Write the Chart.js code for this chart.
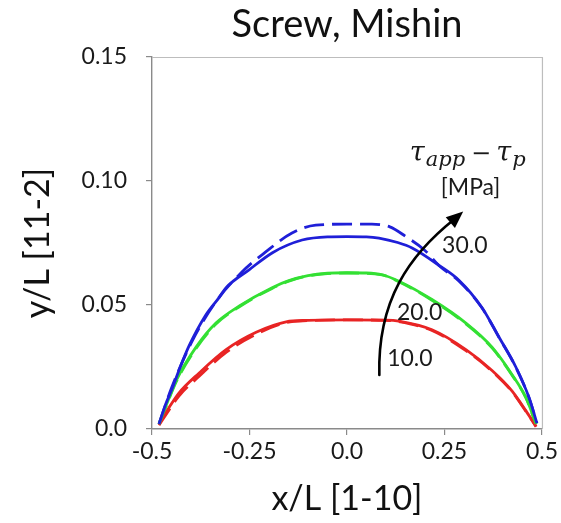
<!DOCTYPE html>
<html>
<head>
<meta charset="utf-8">
<script src="https://cdn.jsdelivr.net/npm/chart.js@4/dist/chart.umd.min.js"></script>
<style>
  html, body { margin: 0; padding: 0; background: #ffffff; }
  #wrap { width: 561px; height: 523px; }
</style>
</head>
<body>
<div id="wrap"><canvas id="c" width="561" height="523"></canvas></div>
<script>
// Chart heading
const chartTitle = 'Screw, Mishin';

// Axis ticks
const xTickValues = [-0.5, -0.25, 0, 0.25, 0.5];
const xTickLabels = ['-0.5', '-0.25', '0.0', '0.25', '0.5'];
const yTickValues = [0, 0.05, 0.10, 0.15];
const yTickLabels = ['0.0', '0.05', '0.10', '0.15'];

// Dislocation line profiles: solid = simulation, dashed = model
const blueSolidX = [-0.482, -0.465, -0.449, -0.43, -0.405, -0.362, -0.328, -0.31, -0.251, -0.19, -0.115, -0.05, 0.0, 0.05, 0.082, 0.13, 0.167, 0.236, 0.287, 0.346, 0.39, 0.433, 0.467, 0.487];
const blueSolidY = [0.002, 0.010, 0.0160, 0.0240, 0.0335, 0.0460, 0.0530, 0.0570, 0.0642, 0.0712, 0.0762, 0.0775, 0.0776, 0.0775, 0.0770, 0.0752, 0.0730, 0.0660, 0.0600, 0.0490, 0.0370, 0.0250, 0.0126, 0.0024];

const blueDashX = [-0.482, -0.45, -0.40, -0.34, -0.27, -0.21, -0.141, -0.08, 0.0, 0.064, 0.11, 0.151, 0.20, 0.235, 0.287, 0.346, 0.39, 0.433, 0.467, 0.487];
const blueDashY = [0.002, 0.0165, 0.0345, 0.0505, 0.0632, 0.0712, 0.0790, 0.0822, 0.0826, 0.0826, 0.0815, 0.0776, 0.0720, 0.0660, 0.0597, 0.0489, 0.0369, 0.0249, 0.0125, 0.0023];

const greenSolidX = [-0.482, -0.46, -0.438, -0.387, -0.336, -0.277, -0.192, -0.149, -0.10, -0.05, 0.0, 0.05, 0.09, 0.133, 0.218, 0.305, 0.372, 0.423, 0.459, 0.485];
const greenSolidY = [0.002, 0.011, 0.0195, 0.0330, 0.0427, 0.0495, 0.0570, 0.0598, 0.0618, 0.0628, 0.0630, 0.0629, 0.0622, 0.0596, 0.0522, 0.0427, 0.0330, 0.0220, 0.0126, 0.0020];

const greenDashX = [-0.482, -0.46, -0.438, -0.387, -0.336, -0.277, -0.192, -0.149, -0.10, 0.0, 0.09, 0.133, 0.218, 0.305, 0.372, 0.423, 0.459, 0.485];
const greenDashY = [0.002, 0.0107, 0.0190, 0.0325, 0.0423, 0.0492, 0.0567, 0.0596, 0.0617, 0.0629, 0.0621, 0.0594, 0.0519, 0.0424, 0.0327, 0.0218, 0.0125, 0.0019];

const redSolidX = [-0.482, -0.455, -0.431, -0.379, -0.31, -0.233, -0.156, -0.10, 0.0, 0.10, 0.133, 0.218, 0.305, 0.372, 0.423, 0.459, 0.485];
const redSolidY = [0.002, 0.009, 0.0145, 0.0226, 0.0320, 0.0390, 0.0432, 0.0438, 0.0440, 0.0439, 0.0435, 0.0400, 0.0320, 0.0236, 0.0154, 0.0073, 0.0010];

const redDashX = [-0.482, -0.455, -0.431, -0.379, -0.31, -0.233, -0.156, -0.10, 0.0, 0.10, 0.133, 0.218, 0.305, 0.372, 0.423, 0.459, 0.485];
const redDashY = [0.0015, 0.0080, 0.0133, 0.0213, 0.0309, 0.0382, 0.0429, 0.0437, 0.0440, 0.0438, 0.0433, 0.0397, 0.0316, 0.0233, 0.0151, 0.0071, 0.0009];

// Stress levels (MPa) written next to the curves
const stressLabels = ['10.0', '20.0', '30.0'];

function pts(xs, ys) { return xs.map((x, i) => ({ x: x, y: ys[i] })); }

const BLUE = '#1f1fd8';
const GREEN = '#33e033';
const RED = '#e82424';

function line(data, color, dashed) {
  return {
    data: data,
    borderColor: color,
    backgroundColor: color,
    borderWidth: 2.8,
    borderDash: dashed ? [20, 8] : [],
    pointRadius: 0,
    cubicInterpolationMode: 'monotone',
    fill: false,
    order: dashed ? 2 : 1
  };
}

// Annotation placement (data units) and styling
const annot = {
  labelPos: [[0.103, 0.0285], [0.128, 0.047], [0.244, 0.074]],
  arrow: { p0: [0.083, 0.0218], c1: [0.078, 0.052], c2: [0.160, 0.0702], p3: [0.276, 0.0847], tip: [0.298, 0.0877] }
};

const overlay = {
  id: 'overlay',
  beforeDatasetsDraw(chart) {
    const { ctx, chartArea: a } = chart;
    ctx.save();
    ctx.strokeStyle = '#bdbdbd';
    ctx.lineWidth = 1.2;
    ctx.beginPath();
    ctx.moveTo(a.left, a.top + 0.5);
    ctx.lineTo(a.right + 0.5, a.top + 0.5);
    ctx.lineTo(a.right + 0.5, a.bottom);
    ctx.stroke();
    // heading centred over the plot area
    ctx.fillStyle = '#111';
    ctx.font = '38px Lato';
    ctx.textAlign = 'center';
    ctx.textBaseline = 'middle';
    ctx.fillText(chartTitle, (a.left + a.right) / 2, 25);
    ctx.restore();
  },
  afterDatasetsDraw(chart) {
    const { ctx } = chart;
    const sx = chart.scales.x, sy = chart.scales.y;
    const P = (p) => [sx.getPixelForValue(p[0]), sy.getPixelForValue(p[1])];
    ctx.save();
    // curved arrow showing increasing stress
    const A = annot.arrow;
    const p0 = P(A.p0), c1 = P(A.c1), c2 = P(A.c2), p3 = P(A.p3), tip = P(A.tip);
    ctx.strokeStyle = '#000';
    ctx.fillStyle = '#000';
    ctx.lineWidth = 2.6;
    ctx.lineCap = 'round';
    ctx.beginPath();
    ctx.moveTo(p0[0], p0[1]);
    ctx.bezierCurveTo(c1[0], c1[1], c2[0], c2[1], p3[0], p3[1]);
    ctx.stroke();
    const ang = Math.atan2(tip[1] - p3[1], tip[0] - p3[0]);
    const L = 17, W = 7;
    const bx = tip[0] - L * Math.cos(ang), by = tip[1] - L * Math.sin(ang);
    ctx.beginPath();
    ctx.moveTo(tip[0], tip[1]);
    ctx.lineTo(bx + W * Math.sin(ang), by - W * Math.cos(ang));
    ctx.lineTo(bx - W * Math.sin(ang), by + W * Math.cos(ang));
    ctx.closePath();
    ctx.fill();

    // stress values
    ctx.fillStyle = '#1a1a1a';
    ctx.font = '23px Lato';
    ctx.textAlign = 'left';
    ctx.textBaseline = 'middle';
    stressLabels.forEach((t, i) => {
      const q = P(annot.labelPos[i]);
      ctx.fillText(t, q[0], q[1]);
    });

    // legend heading: tau_app - tau_p [MPa]
    const base = P([0.161, 0.1080]);
    let x = base[0];
    const y = base[1];
    ctx.textBaseline = 'alphabetic';
    ctx.font = 'italic 27px "DejaVu Serif"';
    ctx.fillText('τ', x, y);
    x += ctx.measureText('τ').width + 1;
    ctx.font = 'italic 21px "DejaVu Serif"';
    ctx.fillText('app', x, y + 5);
    x += ctx.measureText('app').width + 6;
    ctx.font = '24px "DejaVu Serif"';
    ctx.fillText('−', x, y);
    x += ctx.measureText('−').width + 5;
    ctx.font = 'italic 27px "DejaVu Serif"';
    ctx.fillText('τ', x, y);
    x += ctx.measureText('τ').width + 1;
    ctx.font = 'italic 21px "DejaVu Serif"';
    ctx.fillText('p', x, y + 5);

    const mpa = P([0.317, 0.0972]);
    ctx.font = '23px Lato';
    ctx.textAlign = 'center';
    ctx.textBaseline = 'middle';
    ctx.fillText('[MPa]', mpa[0], mpa[1]);
    ctx.restore();
  }
};

new Chart(document.getElementById('c'), {
  type: 'line',
  data: {
    datasets: [
      line(pts(blueDashX, blueDashY), BLUE, true),
      line(pts(greenDashX, greenDashY), GREEN, true),
      line(pts(redDashX, redDashY), RED, true),
      line(pts(blueSolidX, blueSolidY), BLUE, false),
      line(pts(greenSolidX, greenSolidY), GREEN, false),
      line(pts(redSolidX, redSolidY), RED, false)
    ]
  },
  options: {
    responsive: false,
    animation: false,
    devicePixelRatio: 1,
    layout: { padding: { left: 0, right: 18, top: 57, bottom: 0 } },
    plugins: {
      legend: { display: false },
      tooltip: { enabled: false },
      title: { display: false }
    },
    scales: {
      x: {
        type: 'linear',
        min: -0.5, max: 0.5,
        afterBuildTicks: (s) => { s.ticks = xTickValues.map(v => ({ value: v })); },
        afterFit: (s) => { s.height = 94; },
        ticks: {
          callback: (v, i) => xTickLabels[i],
          color: '#1a1a1a',
          font: { family: 'Lato', size: 23 },
          padding: 3,
          maxRotation: 0
        },
        grid: { drawOnChartArea: false, drawTicks: true, tickLength: 6, color: '#8a8a8a', lineWidth: 1.2 },
        border: { display: true, color: '#8a8a8a', width: 1.4 },
        title: {
          display: true,
          text: 'x/L [1-10]',
          color: '#111',
          font: { family: 'Lato', size: 34 },
          padding: { top: 0, bottom: 4 }
        }
      },
      y: {
        type: 'linear',
        min: 0, max: 0.15,
        afterBuildTicks: (s) => { s.ticks = yTickValues.map(v => ({ value: v })); },
        afterFit: (s) => { s.width = 152; },
        ticks: {
          callback: (v, i) => yTickLabels[i],
          color: '#1a1a1a',
          font: { family: 'Lato', size: 23 },
          padding: 19
        },
        grid: { drawOnChartArea: false, drawTicks: true, tickLength: 6, color: '#8a8a8a', lineWidth: 1.2 },
        border: { display: true, color: '#8a8a8a', width: 1.4 },
        title: {
          display: true,
          text: 'y/L [11-2]',
          color: '#111',
          font: { family: 'Lato', size: 34 },
          padding: { top: 18, bottom: 0 }
        }
      }
    }
  },
  plugins: [overlay]
});
</script>
</body>
</html>
